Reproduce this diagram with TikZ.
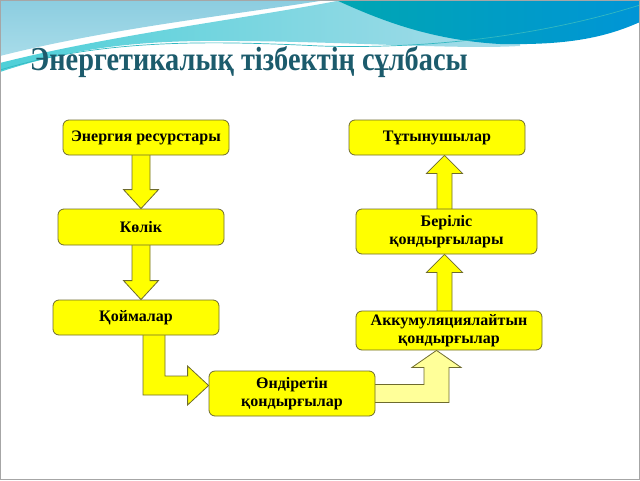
\documentclass[tikz,border=0pt]{standalone}
\usepackage{fontspec}
\setmainfont{Liberation Serif}
\usetikzlibrary{calc,backgrounds}
\definecolor{boxyellow}{HTML}{FFFF00}
\definecolor{paleyellow}{HTML}{FFFF99}
\definecolor{boxline}{HTML}{6E6B2E}
\definecolor{titleteal}{HTML}{1C5B6C}
\definecolor{waveblue}{HTML}{8CCDE0}
\definecolor{wavelight}{HTML}{A8DCE9}
\definecolor{wavecyan}{HTML}{4ED0D8}
\definecolor{waveteal}{HTML}{00A6B2}
\definecolor{wavedeep}{HTML}{0095D6}

\begin{document}
\begin{tikzpicture}[x=1pt,y=-1pt,
                blok/.style={draw=boxline,fill=boxyellow,rounded corners=6pt,line width=0.8pt,
                    align=center,inner sep=0pt,font=\bfseries\fontsize{16}{18}\selectfont},
                strelka/.style={draw=boxline,fill=boxyellow,line width=0.8pt}]
                \useasboundingbox (0,0) rectangle (640,480);
                \node[anchor=base west,inner sep=0pt,text=titleteal,
                    font=\bfseries\fontsize{27.5}{30}\selectfont] (title) at (30,70) {\scalebox{1.03}[1.22]{Энергетикалық тізбектің сұлбасы}};
                % left column
                \node[blok,minimum width=166pt,minimum height=35pt] (res) at (146,137.5) {Энергия ресурстары};
                \node[blok,minimum width=166pt,minimum height=36pt] (kolik) at (141,227) {Көлік};
                \node[blok,minimum width=166pt,minimum height=35pt] (koim) at (136,317.5) {Қоймалар};
                \node[blok,minimum width=166pt,minimum height=45pt] (ondir) at (292,393.5) {Өндіретін\\қондырғылар};
                % right column
                \node[blok,minimum width=186pt,minimum height=39pt] (akkum) at (449,330.5) {Аккумуляциялайтын\\қондырғылар};
                \node[blok,minimum width=181pt,minimum height=45pt] (beril) at (446.5,231.5) {Беріліс\\қондырғылары};
                \node[blok,minimum width=176pt,minimum height=35pt] (tutyn) at (437,137.5) {Тұтынушылар};
                \coordinate (lx) at (kolik.center);
                \coordinate (rx) at ($(beril.center)+(-2,0)$);
                \coordinate (lsh) at ($(koim.south)+(7,0)$);
                \coordinate (rsh) at ($(koim.south)+(29,0)$);
                \coordinate (ltip) at ($(ondir.west)+(0,-8)$);
                \coordinate (lbot) at ($(ltip)+(-21,9.5)$);
                \coordinate (ltop) at ($(ltip)+(-21,-9.5)$);
                \coordinate (ptip) at ($(akkum.south)+(-12.5,0)$);
                \coordinate (pin) at ($(ondir.east)+(-2,0)$);
                \begin{scope}[on background layer]
                    % waves at the top
                    \shade[top color=waveblue,bottom color=wavelight] (0,0) -- (326,0)
                        .. controls (240,14) and (110,28) .. (0,56) -- cycle;
                    \shade[left color=wavecyan,right color=wavelight] (0,63)
                        .. controls (110,35) and (250,18) .. (342,0) -- (520,0) -- (520,46)
                        .. controls (450,50) and (330,40) .. (200,41)
                        .. controls (120,42) and (60,52) .. (0,72) -- cycle;
                    \shade[left color=waveteal,right color=wavedeep] (336,0) -- (640,0) -- (640,22)
                        .. controls (600,40) and (560,45) .. (500,44)
                        .. controls (430,40) and (380,20) .. (336,0) -- cycle;
                    \draw[waveteal!80,line width=0.7pt] (0,70) .. controls (100,40) and (200,40) .. (320,46)
                        .. controls (450,50) and (560,30) .. (640,5);
                    \draw[gray!70,line width=1.2pt] (0.6,0.6) rectangle (639.4,479.4);
                    % block arrows
                    \foreach \a/\b in {res/kolik,kolik/koim}
                        \draw[strelka] ($(lx |- \a.south)+(-9,-2)$) -- ($(lx |- \b.north)+(-9,-19)$)
                            -- ($(lx |- \b.north)+(-17.5,-19)$) -- (lx |- \b.north)
                            -- ($(lx |- \b.north)+(17.5,-19)$) -- ($(lx |- \b.north)+(9,-19)$)
                            -- ($(lx |- \a.south)+(9,-2)$);
                    \foreach \a/\b in {akkum/beril,beril/tutyn}
                        \draw[strelka] ($(rx |- \a.north)+(-7.5,2)$) -- ($(rx |- \b.south)+(-7.5,18)$)
                            -- ($(rx |- \b.south)+(-18,18)$) -- (rx |- \b.south)
                            -- ($(rx |- \b.south)+(18,18)$) -- ($(rx |- \b.south)+(7.5,18)$)
                            -- ($(rx |- \a.north)+(7.5,2)$);
                    \draw[strelka] ($(lsh)+(0,-2)$) -- (lsh |- lbot) -- (lbot) -- ($(ltip)+(-21,19.5)$)
                        -- (ltip) -- ($(ltip)+(-21,-19.5)$) -- (ltop) -- (rsh |- ltop) -- ($(rsh)+(0,-2)$);
                    \draw[strelka,fill=paleyellow] ($(pin)+(0,-9)$) -- ($(ptip |- pin)+(-12.5,-9)$)
                        -- ($(ptip)+(-12.5,17)$) -- ($(ptip)+(-24.5,17)$) -- (ptip)
                        -- ($(ptip)+(24.5,17)$) -- ($(ptip)+(12.5,17)$)
                        -- ($(ptip |- pin)+(12.5,9)$) -- ($(pin)+(0,9)$);
                \end{scope}
\end{tikzpicture}
\end{document}
